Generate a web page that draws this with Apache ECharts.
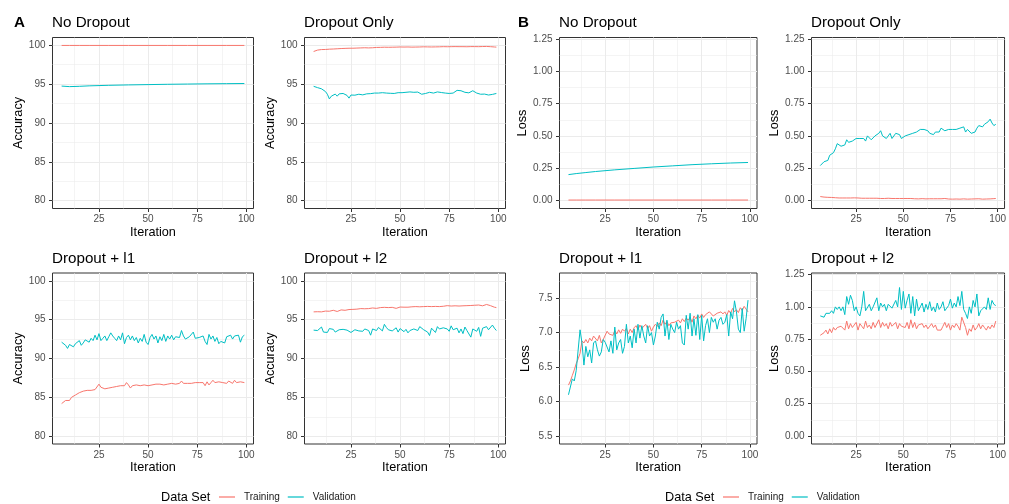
<!DOCTYPE html>
<html>
<head>
<meta charset="utf-8">
<script src="https://cdn.jsdelivr.net/npm/echarts@6/dist/echarts.min.js"></script>
<style>
html,body{margin:0;padding:0;background:#fff;}
#chart{width:1009px;height:504px;}
</style>
</head>
<body>
<div id="chart"></div>
<script>
// ---------- DATA ----------
const ITER = [6,7,8,9,10,11,12,13,14,15,16,17,18,19,20,21,22,23,24,25,26,27,28,29,30,31,32,33,34,35,36,37,38,39,40,41,42,43,44,45,46,47,48,49,50,51,52,53,54,55,56,57,58,59,60,61,62,63,64,65,66,67,68,69,70,71,72,73,74,75,76,77,78,79,80,81,82,83,84,85,86,87,88,89,90,91,92,93,94,95,96,97,98,99];
const ITER_SMOOTH = [6,10,15,20,30,40,50,60,70,80,90,99];

const PANEL_TITLES = ['No Dropout','Dropout Only','Dropout + l1','Dropout + l2'];
const SERIES_NAMES = ['Training','Validation'];
const X_TICKS = [25,50,75,100];
const X_MINOR = [12.5,37.5,62.5,87.5];
const ACC_TICKS = [80,85,90,95,100];
const ACC_MINOR = [82.5,87.5,92.5,97.5];
const LOSS_TICKS = [0,0.25,0.5,0.75,1,1.25];
const LOSS_MINOR = [0.125,0.375,0.625,0.875,1.125];
const LOSS_L1_TICKS = [5.5,6,6.5,7,7.5];
const LOSS_L1_MINOR = [5.75,6.25,6.75,7.25,7.75];

// A: accuracy
const ACC_ND_TRAIN = [99.98,99.98,99.98,99.98,99.98,99.98,99.98,99.98,99.98,99.98,99.98,99.98];
const ACC_ND_VAL = [94.75,94.68,94.72,94.78,94.85,94.90,94.94,94.98,95.01,95.04,95.06,95.08];

const ACC_DO_TRAIN = [
99.20,99.30,99.38,99.42,99.45,99.42,99.46,99.44,99.50,99.48,
99.52,99.50,99.55,99.53,99.58,99.55,99.60,99.52,99.62,99.50,
99.62,99.66,99.64,99.65,99.66,99.64,99.68,99.67,99.66,99.70,
99.68,99.70,99.72,99.70,99.73,99.72,99.75,99.72,99.74,99.73,
99.75,99.74,99.76,99.75,99.78,99.74,99.77,99.76,99.78,99.77,
99.76,99.78,99.77,99.79,99.78,99.76,99.80,99.78,99.79,99.80,
99.78,99.80,99.79,99.81,99.80,99.79,99.82,99.80,99.81,99.80,
99.82,99.81,99.83,99.80,99.82,99.84,99.82,99.83,99.81,99.84,
99.83,99.85,99.83,99.84,99.82,99.85,99.84,99.83,99.85,99.84,
99.82,99.80,99.78,99.76];
const ACC_DO_VAL = [
94.72,94.60,94.55,94.48,94.40,94.30,94.05,93.70,93.10,93.45,
93.65,93.72,93.45,93.75,93.55,93.80,93.60,93.55,93.20,93.60,
93.50,93.58,93.62,93.70,93.68,93.62,93.70,93.75,93.72,93.78,
93.82,93.85,93.60,93.85,93.80,93.90,93.78,93.85,93.75,93.82,
93.88,93.80,93.85,93.90,94.05,93.90,94.10,93.95,93.92,94.00,
93.88,93.95,93.90,93.98,93.85,93.70,93.62,93.80,93.90,93.95,
94.05,93.85,93.95,94.00,93.90,93.92,94.05,93.85,93.90,93.80,
93.78,93.85,93.95,94.20,94.25,94.15,94.00,93.95,93.90,93.88,
94.05,94.15,93.95,93.85,93.78,93.70,93.85,93.72,93.65,93.60,
93.75,93.68,93.90,93.80];

const ACC_L1_TRAIN = [
84.2,84.0,84.6,84.8,84.6,85.0,85.2,85.3,85.4,85.6,
85.5,85.8,85.7,85.9,85.8,85.9,85.9,86.0,86.1,86.7,
86.3,86.2,86.1,86.3,86.2,86.4,86.3,86.5,86.4,86.6,
86.5,86.7,86.5,86.9,86.6,86.2,86.5,86.7,86.6,86.8,
86.5,86.7,86.6,86.8,86.5,86.7,86.6,86.7,86.7,86.8,
86.7,86.8,86.6,86.8,86.7,86.9,86.8,86.8,86.7,86.9,
86.8,87.1,86.8,86.9,86.8,86.9,86.8,86.9,86.9,86.8,
86.9,86.8,86.9,86.5,87.0,86.6,86.9,87.2,86.9,87.1,
87.0,87.1,86.9,87.0,86.8,87.1,86.9,86.8,87.2,86.9,
86.8,87.0,86.9,86.9];
const ACC_L1_VAL = [
92.1,92.0,91.7,91.3,91.8,92.0,91.5,91.9,92.1,92.3,
91.7,92.0,92.4,92.4,92.1,92.6,92.3,93.0,92.4,93.2,
92.3,92.6,92.9,92.3,92.8,93.3,92.9,92.6,92.3,92.9,
92.4,93.3,91.9,92.7,93.0,92.4,92.9,92.3,92.7,92.0,
92.6,92.2,93.1,92.1,91.8,92.7,93.1,92.5,92.9,92.0,
92.8,92.3,93.1,92.2,92.9,92.5,93.0,92.4,92.8,92.6,
92.7,93.6,92.9,92.5,92.6,92.8,92.9,93.4,92.6,92.4,
92.7,92.5,92.9,92.2,91.8,93.1,92.5,92.9,92.2,92.7,
91.9,92.2,92.3,92.0,92.8,92.6,93.0,92.5,92.9,92.7,
93.0,92.1,92.8,93.0];

const ACC_L2_TRAIN = [
96.00,95.98,96.02,96.05,96.00,96.05,96.10,96.15,96.08,96.10,
96.20,96.15,96.05,96.12,96.25,96.30,96.20,96.35,96.30,96.40,
96.32,96.45,96.35,96.30,96.42,96.45,96.40,96.48,96.42,96.45,
96.50,96.48,96.45,96.52,96.55,96.60,96.58,96.62,96.55,96.60,
96.58,96.52,96.45,96.55,96.62,96.58,96.60,96.65,96.60,96.62,
96.65,96.60,96.68,96.70,96.65,96.72,96.68,96.75,96.70,96.72,
96.68,96.75,96.70,96.72,96.68,96.78,96.72,96.75,96.80,96.72,
96.75,96.80,96.78,96.82,96.75,96.80,96.78,96.85,96.80,96.88,
96.82,96.92,96.85,96.80,96.88,96.82,96.78,96.85,96.95,96.90,
96.80,96.65,96.60,96.55];
const ACC_L2_VAL = [
93.65,93.55,93.60,93.50,94.05,93.40,93.60,93.35,93.85,93.70,
93.75,93.40,93.20,93.70,93.55,93.75,93.50,93.65,93.80,93.35,
93.60,93.70,93.90,93.55,93.75,93.50,93.80,93.70,93.60,93.00,
93.80,93.95,93.60,94.00,93.90,93.55,94.40,94.00,93.70,93.90,
93.55,93.75,93.95,93.40,93.85,93.60,93.45,93.75,93.30,93.60,
93.70,93.80,93.90,93.60,94.10,94.25,93.70,93.85,93.40,92.95,
93.90,93.65,93.35,94.10,93.80,93.60,93.95,93.70,93.80,93.50,
94.20,93.70,93.55,93.90,93.30,93.80,93.20,94.05,93.60,93.75,
92.75,93.80,93.95,93.50,94.00,92.85,93.90,93.75,94.10,93.70,
93.85,94.30,93.90,93.60];

// B: loss
const LOSS_ND_TRAIN = [0.003,0.003,0.003,0.003,0.003,0.003,0.003,0.003,0.003,0.003,0.003,0.003];
const LOSS_ND_VAL = [0.200,0.208,0.216,0.224,0.237,0.248,0.259,0.268,0.277,0.284,0.290,0.294];

const LOSS_DO_TRAIN = [
0.030,0.028,0.026,0.025,0.024,0.025,0.023,0.022,0.021,0.020,
0.019,0.020,0.019,0.018,0.019,0.018,0.019,0.018,0.020,0.024,
0.019,0.018,0.017,0.018,0.017,0.016,0.017,0.016,0.017,0.016,
0.017,0.016,0.015,0.016,0.015,0.016,0.017,0.016,0.015,0.016,
0.015,0.016,0.015,0.014,0.015,0.016,0.015,0.014,0.015,0.014,
0.013,0.014,0.012,0.013,0.014,0.013,0.012,0.014,0.013,0.012,
0.013,0.014,0.013,0.012,0.013,0.012,0.015,0.013,0.011,0.012,
0.010,0.012,0.011,0.012,0.010,0.011,0.012,0.011,0.010,0.012,
0.011,0.010,0.012,0.011,0.013,0.011,0.010,0.012,0.011,0.013,
0.012,0.013,0.014,0.015];
const LOSS_DO_VAL = [
0.27,0.28,0.30,0.29,0.31,0.35,0.36,0.37,0.40,0.44,
0.43,0.42,0.42,0.43,0.47,0.45,0.44,0.46,0.47,0.48,
0.49,0.48,0.47,0.48,0.46,0.50,0.49,0.47,0.48,0.50,
0.51,0.52,0.54,0.50,0.49,0.48,0.50,0.52,0.48,0.47,
0.52,0.53,0.51,0.48,0.49,0.50,0.50,0.51,0.51,0.52,
0.52,0.53,0.54,0.55,0.56,0.55,0.54,0.54,0.52,0.51,
0.51,0.53,0.54,0.53,0.56,0.57,0.54,0.55,0.55,0.56,
0.55,0.56,0.55,0.54,0.56,0.55,0.57,0.53,0.55,0.54,
0.52,0.52,0.53,0.56,0.58,0.58,0.57,0.59,0.60,0.61,
0.63,0.60,0.58,0.59];

const LOSS_L1_TRAIN = [
6.24,6.30,6.38,6.46,6.55,6.62,6.70,6.88,6.85,6.90,
6.85,6.92,6.88,6.95,6.93,6.88,6.96,6.85,6.90,6.88,
7.02,6.98,7.00,6.96,7.03,6.98,7.04,6.99,7.05,7.02,
7.06,6.98,7.05,7.00,7.07,7.10,7.04,7.11,7.06,7.08,
7.12,7.06,7.10,7.02,7.08,7.12,7.09,7.14,7.10,7.18,
7.12,7.16,7.10,7.14,7.12,7.15,7.13,7.18,7.14,7.20,
7.16,7.21,7.18,7.22,7.15,7.24,7.20,7.25,7.21,7.27,
7.22,7.26,7.24,7.30,7.28,7.24,7.22,7.28,7.26,7.30,
7.27,7.30,7.25,7.32,7.28,7.35,7.30,7.33,7.29,7.36,
7.32,7.38,7.34,7.30];
const LOSS_L1_VAL = [
6.10,6.08,6.33,6.30,6.45,6.45,7.04,6.85,6.53,6.80,
6.65,6.75,6.56,6.85,6.88,6.75,6.66,6.72,6.90,6.86,
6.84,6.72,6.88,6.70,7.08,6.75,6.85,6.90,6.70,6.80,
7.12,6.85,6.95,6.78,7.05,6.85,7.12,6.92,7.10,6.95,
6.85,7.10,6.95,7.00,6.82,6.95,7.15,7.05,7.22,7.27,
6.95,7.18,6.90,7.12,7.05,7.00,7.15,7.05,7.10,6.85,
6.82,7.25,7.05,7.28,6.95,7.20,6.96,7.26,6.90,7.25,
6.88,7.10,7.20,7.00,7.22,7.15,7.20,7.05,7.18,7.22,
7.12,7.15,7.26,6.95,7.30,7.20,7.46,7.30,7.05,7.00,
7.35,7.02,7.20,7.47];

const LOSS_L2_TRAIN = [
0.78,0.79,0.80,0.82,0.79,0.83,0.80,0.84,0.82,0.84,
0.83,0.85,0.84,0.82,0.89,0.83,0.87,0.84,0.86,0.88,
0.82,0.87,0.85,0.83,0.89,0.84,0.86,0.83,0.88,0.84,
0.85,0.90,0.84,0.88,0.85,0.87,0.83,0.88,0.85,0.84,
0.88,0.83,0.87,0.85,0.86,0.84,0.88,0.83,0.90,0.84,
0.88,0.83,0.86,0.85,0.87,0.84,0.86,0.83,0.85,0.87,
0.84,0.86,0.82,0.81,0.82,0.85,0.88,0.84,0.87,0.82,
0.86,0.84,0.87,0.85,0.82,0.92,0.93,0.84,0.78,0.83,
0.81,0.86,0.82,0.84,0.87,0.83,0.86,0.84,0.82,0.85,
0.83,0.86,0.84,0.89];
const LOSS_L2_VAL = [
0.93,0.92,0.92,0.95,0.96,0.95,0.97,0.95,1.00,0.98,
1.00,0.97,1.00,0.94,1.08,1.02,1.09,1.05,0.97,1.00,
0.95,0.93,1.00,1.12,0.97,0.96,1.02,0.97,1.00,0.99,
1.07,0.97,1.03,1.00,1.02,0.97,1.02,1.03,0.99,1.00,
1.05,1.00,1.15,0.98,1.12,0.99,1.05,1.10,0.95,1.08,
0.93,1.06,0.97,1.00,1.03,0.96,1.02,0.98,1.04,0.97,
1.00,0.96,1.03,0.98,1.00,1.04,0.97,0.99,1.01,1.06,
0.99,1.03,1.00,1.08,1.01,1.12,0.98,0.95,0.91,1.00,
0.95,1.05,1.00,1.10,0.93,0.97,0.96,1.00,0.98,1.07,
0.98,1.05,1.02,1.01];

// ---------- LAYOUT / STYLE ----------
const COLORS = ['#F8766D','#00BFC4'];
const FONT = 'Liberation Sans, Arial, Helvetica, sans-serif';
const X_RANGE = [1.35, 103.65];
const Y_ACC = {min:79, max:101, ticks:ACC_TICKS, minor:ACC_MINOR, fmt:v=>String(Math.round(v)), name:'Accuracy', gap:24};
const Y_LOSS = {min:-0.0625, max:1.2625, ticks:LOSS_TICKS, minor:LOSS_MINOR, fmt:v=>v.toFixed(2), name:'Loss', gap:28};
const Y_L1 = {min:5.3875, max:7.8625, ticks:LOSS_L1_TICKS, minor:LOSS_L1_MINOR, fmt:v=>v.toFixed(1), name:'Loss', gap:28};

const panels = [
  {rect:[52.5,37.5,201,171], title:PANEL_TITLES[0], y:Y_ACC, xs:ITER_SMOOTH, tr:ACC_ND_TRAIN, va:ACC_ND_VAL},
  {rect:[304.5,37.5,201,171], title:PANEL_TITLES[1], y:Y_ACC, xs:ITER, tr:ACC_DO_TRAIN, va:ACC_DO_VAL},
  {rect:[52.5,273,201,171], title:PANEL_TITLES[2], y:Y_ACC, xs:ITER, tr:ACC_L1_TRAIN, va:ACC_L1_VAL},
  {rect:[304.5,273,201,171], title:PANEL_TITLES[3], y:Y_ACC, xs:ITER, tr:ACC_L2_TRAIN, va:ACC_L2_VAL},
  {rect:[559.5,37.5,197.5,171], title:PANEL_TITLES[0], y:Y_LOSS, xs:ITER_SMOOTH, tr:LOSS_ND_TRAIN, va:LOSS_ND_VAL},
  {rect:[811.5,37.5,196,171], title:PANEL_TITLES[1], y:Y_LOSS, xs:ITER, tr:LOSS_DO_TRAIN, va:LOSS_DO_VAL},
  {rect:[559.5,273,197.5,171], title:PANEL_TITLES[2], y:Y_L1, xs:ITER, tr:LOSS_L1_TRAIN, va:LOSS_L1_VAL},
  {rect:[811.5,273,196,171], title:PANEL_TITLES[3], y:Y_LOSS, xs:ITER, tr:LOSS_L2_TRAIN, va:LOSS_L2_VAL}
];

const pairs = (xs, ys) => xs.map((x,i)=>[x, ys[i]]);

const grid=[], xAxis=[], yAxis=[], series=[], title=[];
panels.forEach((p,i)=>{
  const [l,t,w,h] = p.rect;
  grid.push({left:l, top:t, width:w, height:h, show:true, borderColor:'#333333', borderWidth:1, backgroundColor:'#ffffff', z:0});
  title.push({text:p.title, left:l-0.5, top:t-22, padding:0, textStyle:{fontFamily:FONT, fontSize:15.2, fontWeight:'normal', color:'#000'}});
  // major x
  xAxis.push({type:'value', gridIndex:i, min:X_RANGE[0], max:X_RANGE[1], position:'bottom',
    axisLine:{show:false, onZero:false},
    axisTick:{show:true, customValues:X_TICKS, length:3.5, inside:false, lineStyle:{color:'#333333', width:1}},
    axisLabel:{customValues:X_TICKS, fontFamily:FONT, fontSize:10, color:'#4d4d4d', margin:6, formatter:v=>String(Math.round(v))},
    splitLine:{show:true, lineStyle:{color:'#ebebeb', width:1}},
    name:'Iteration', nameLocation:'middle', nameGap:17, nameTextStyle:{fontFamily:FONT, fontSize:12.7, color:'#000'}});
  // minor x
  xAxis.push({type:'value', gridIndex:i, min:X_RANGE[0], max:X_RANGE[1], position:'bottom',
    axisLine:{show:false, onZero:false}, axisTick:{show:false, customValues:X_MINOR}, axisLabel:{show:false, customValues:X_MINOR},
    splitLine:{show:true, lineStyle:{color:'#ebebeb', width:0.55}}});
  // major y
  yAxis.push({type:'value', gridIndex:i, min:p.y.min, max:p.y.max, position:'left',
    axisLine:{show:false, onZero:false},
    axisTick:{show:true, customValues:p.y.ticks, length:3.5, inside:false, lineStyle:{color:'#333333', width:1}},
    axisLabel:{customValues:p.y.ticks, fontFamily:FONT, fontSize:10, color:'#4d4d4d', margin:7, formatter:p.y.fmt},
    splitLine:{show:true, lineStyle:{color:'#ebebeb', width:1}},
    name:p.y.name, nameLocation:'middle', nameGap:p.y.gap, nameRotate:90, nameTextStyle:{fontFamily:FONT, fontSize:12.7, color:'#000'}});
  // minor y
  yAxis.push({type:'value', gridIndex:i, min:p.y.min, max:p.y.max, position:'left',
    axisLine:{show:false, onZero:false}, axisTick:{show:false, customValues:p.y.minor}, axisLabel:{show:false, customValues:p.y.minor},
    splitLine:{show:true, lineStyle:{color:'#ebebeb', width:0.55}}});
  series.push({name:SERIES_NAMES[0], type:'line', xAxisIndex:2*i, yAxisIndex:2*i, data:pairs(p.xs,p.tr),
    showSymbol:false, symbol:'none', lineStyle:{color:COLORS[0], width:1}, itemStyle:{color:COLORS[0]}, silent:true, z:3});
  series.push({name:SERIES_NAMES[1], type:'line', xAxisIndex:2*i, yAxisIndex:2*i, data:pairs(p.xs,p.va),
    showSymbol:false, symbol:'none', lineStyle:{color:COLORS[1], width:1}, itemStyle:{color:COLORS[1]}, silent:true, z:4});
});

title.push({text:'A', left:14, top:15, padding:0, textStyle:{fontFamily:FONT, fontSize:15.2, fontWeight:'bold', color:'#000'}});
title.push({text:'B', left:518, top:15, padding:0, textStyle:{fontFamily:FONT, fontSize:15.2, fontWeight:'bold', color:'#000'}});

const legendBase = {orient:'horizontal', top:492, padding:0, itemWidth:16, itemHeight:1.2, icon:'rect', itemGap:8,
  selectedMode:false, data:SERIES_NAMES,
  textStyle:{fontFamily:FONT, fontSize:10, color:'#1a1a1a', padding:[0,0,0,4]}};

const option = {
  animation:false,
  backgroundColor:'#ffffff',
  title, grid, xAxis, yAxis, series,
  legend:[Object.assign({left:219}, legendBase), Object.assign({left:723}, legendBase)],
  graphic:[
    {type:'text', left:161, top:491, style:{text:'Data Set', fontFamily:FONT, fontSize:12.7, fill:'#000'}},
    {type:'text', left:665, top:491, style:{text:'Data Set', fontFamily:FONT, fontSize:12.7, fill:'#000'}}
  ]
};

const chart = echarts.init(document.getElementById('chart'), null, {renderer:'canvas'});
chart.setOption(option);
</script>
</body>
</html>
